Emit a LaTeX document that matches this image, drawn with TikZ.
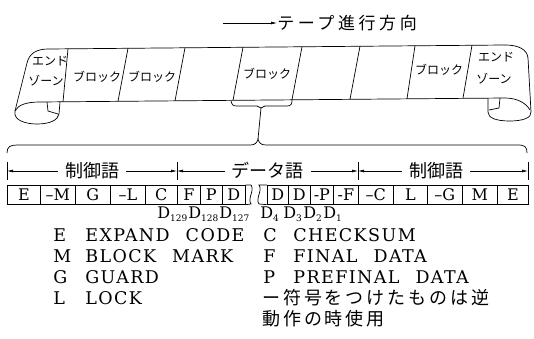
\documentclass[tikz,border=0pt]{standalone}
\usepackage{fontspec}
\setmainfont{DejaVu Serif}
\newfontfamily\jp{Noto Sans CJK JP}
\usetikzlibrary{arrows.meta}
\newcommand\wsp{\hspace{16pt}}
\newcommand\dsub[1]{D\raisebox{-3pt}{\fontsize{9}{9}\selectfont#1}}

\begin{document}
\begin{tikzpicture}[x=1pt,y=-1pt,line width=0.7pt,
  tip/.style={-{Latex[length=6pt,width=3pt]}},
  dimarrow/.style={{Latex[length=6pt,width=3pt]}-{Latex[length=6pt,width=3pt]}},
  cell/.style={draw,anchor=north west,minimum height=19pt,inner sep=0pt,
    font=\fontsize{16}{16}\selectfont},
  tapelbl/.style={inner sep=0pt,font=\jp\fontsize{12}{12}\selectfont},
  dimlbl/.style={fill=white,inner ysep=0pt,inner xsep=7pt,
    font=\jp\fontsize{18}{20}\selectfont},
  dlbl/.style={anchor=west,inner sep=0pt,font=\fontsize{16}{16}\selectfont},
  legend/.style={anchor=west,inner sep=0pt,
    font=\fontsize{17.5}{20}\selectfont\addfontfeature{LetterSpace=8}},
  jpnote/.style={anchor=west,inner sep=0pt,
    font=\jp\fontsize{18}{20}\selectfont\addfontfeature{LetterSpace=16}}]
\useasboundingbox (0,0) rectangle (534,339);

% direction of travel
\coordinate (dirstart) at (223,23);
\node[anchor=west,inner sep=0pt,
  font=\jp\fontsize{17}{20}\selectfont\addfontfeature{LetterSpace=21}]
  (dir) at (277,23) {テープ進行方向};
\draw[tip] (dirstart) -- (dir.west);

% tape with curled ends
\draw (505,45) -- (48,49) .. controls (36,49) and (29,54) .. (27,63)
  -- (15,111) .. controls (13,120) and (25,124) .. (37,124)
  .. controls (50,124) and (58,120) .. (59,114) -- (60,102);
\draw (505,45) .. controls (518,45) and (527,49) .. (528,58)
  -- (531,112) .. controls (532,118) and (522,121) .. (510,121)
  .. controls (496,121) and (488,118) .. (488,112) -- (488,98);
\draw (15,111) .. controls (18,105) and (26,102) .. (40,102) -- (505,98)
  .. controls (517,98) and (526,103) .. (530,110);
\draw (47,102) -- (48,111) -- (58,114);
\draw (500,98) -- (499,108) -- (489,110);

% block boundaries
\foreach \a/\b in {68/63,128/118,185/175,243/233,302/292,360/350,415/407,472/463}
  \draw (\a,{49-4*(\a-48)/457}) -- (\b,{102-4*(\b-40)/448});

\node[tapelbl] (endLa) at (50,61) {エンド};
\node[tapelbl] (endLb) at (46,81) {ゾーン};
\node[tapelbl] (blk2) at (97,77) {ブロック};
\node[tapelbl] (blk3) at (152,77) {ブロック};
\node[tapelbl] (blk5) at (267,74) {ブロック};
\node[tapelbl] (blk8) at (439,70) {ブロック};
\node[tapelbl] (endRa) at (496,57) {エンド};
\node[tapelbl] (endRb) at (494,79) {ゾーン};

% brace under one block, then the wide brace
\coordinate (sbtip) at (261,108);
\coordinate (bbtip) at (258,139);
\draw (231,101) .. controls (232,105) and (233,106) .. (237,106) -- (257,106)
  -- (sbtip) -- (265,106) -- (287,106) .. controls (291,106) and (292,104) .. (292,100);
\draw (sbtip) -- (bbtip);
\draw (7,153) .. controls (7,147) and (10,145) .. (17,145) -- (250,145)
  .. controls (255,145) and (257,143) .. (bbtip)
  .. controls (259,143) and (261,145) .. (266,145) -- (518,145)
  .. controls (525,145) and (527,147) .. (527,153);

% word lengths
\foreach \x [count=\i] in {7,177,358,528} {
  \coordinate (dm\i) at (\x,171);
  \draw (\x,162) -- (\x,180);
}
\draw[dimarrow] (dm1) -- (dm2) node[dimlbl,midway] (ctlL) {制御語};
\draw[dimarrow] (dm2) -- (dm3) node[dimlbl,midway] (data) {データ語};
\draw[dimarrow] (dm3) -- (dm4) node[dimlbl,pos=0.46] (ctlR) {制御語};

% word cells
\foreach \x/\w/\t [count=\i] in {7/33/E,40/35/--M,75/35/G,110/35/--L,145/32/C,
    177/23/F,200/22/P,222/23/D,267/21/D,288/22/D,310/23/-P,333/25/-F,
    358/35/--C,393/34/L,427/35/--G,462/35/M,497/31/E}
  \node[cell,minimum width=\w pt] (c\i) at (\x,185) {\t};
\draw (c8.north east) -- (251,185) .. controls (255,190) and (247,199) .. (251,204)
  -- (c8.south east);
\draw (c9.north west) -- (259,185) .. controls (263,190) and (255,199) .. (259,204)
  -- (c9.south west);

\foreach \x/\s in {157/129,188/128,219/127,260/4,283/3,303/2,323/1}
  \node[dlbl] (d\s) at (\x,214) {\dsub{\s}};

% legend
\foreach \y/\ka/\va/\kb/\vb in {235/E/EXPAND\wsp CODE/C/CHECKSUM,
    256/M/BLOCK\wsp MARK/F/FINAL\wsp DATA,
    277/G/GUARD/P/PREFINAL\wsp DATA} {
  \node[legend] (k\ka) at (53,\y) {\ka};
  \node[legend] (v\ka) at (85,\y) {\va};
  \node[legend] (k\kb) at (263,\y) {\kb};
  \node[legend] (v\kb) at (293,\y) {\vb};
}
\node[legend] (kL) at (53,298) {L};
\node[legend] (vL) at (85,298) {LOCK};
\node[jpnote] (note1) at (262,298) {ー符号をつけたものは逆};
\node[jpnote] (note2) at (262,319) {動作の時使用};
\end{tikzpicture}
\end{document}
